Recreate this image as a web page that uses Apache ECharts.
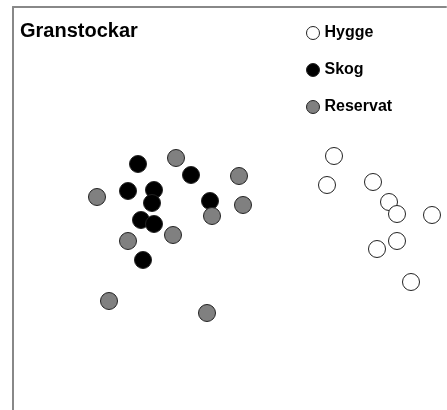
<!DOCTYPE html>
<html>
<head>
<meta charset="utf-8">
<script src="https://cdn.jsdelivr.net/npm/echarts@6/dist/echarts.min.js"></script>
<style>
  html, body { margin: 0; padding: 0; background: #fff; }
  #container { width: 447px; height: 410px; }
</style>
</head>
<body>
<div id="container"></div>
<script>
// ordination scores
var hygge = [
  [321, 254], [314, 225], [360, 228], [376, 208], [384, 196],
  [419, 195], [384, 169], [364, 161], [398, 128]
];
var skog = [
  [125, 246], [178, 235], [115, 219], [141, 220], [139, 207],
  [197, 209], [128, 190], [141, 186], [130, 150]
];
var reservat = [
  [163, 252], [226, 234], [84, 213], [230, 205], [199, 194],
  [160, 175], [115, 169], [96, 109], [194, 97]
];
var seriesNames = ['Hygge', 'Skog', 'Reservat'];

var font = 'Liberation Sans, Arial, sans-serif';
var dom = document.getElementById('container');
var myChart = echarts.init(dom, null, { renderer: 'canvas' });

function pts(name, data, fill) {
  return {
    name: name,
    type: 'scatter',
    data: data,
    symbol: 'circle',
    symbolSize: 17,
    itemStyle: { color: fill, borderColor: '#222', borderWidth: 1, opacity: 1 },
    emphasis: { disabled: true }
  };
}

var option = {
  animation: false,
  title: {
    text: 'Granstockar',
    left: 15,
    top: 16,
    textStyle: { fontFamily: font, fontSize: 20, fontWeight: 'bold', color: '#000' }
  },
  legend: {
    data: seriesNames,
    orient: 'vertical',
    left: 301,
    top: 20,
    itemWidth: 13,
    itemHeight: 13,
    itemGap: 21,
    icon: 'circle',
    itemStyle: { borderWidth: 1, borderColor: '#222' },
    textStyle: { fontFamily: font, fontSize: 16, fontWeight: 'bold', color: '#000' }
  },
  grid: { left: 13, right: 1, top: 7, bottom: 0 },
  xAxis: {
    type: 'value',
    position: 'top',
    min: 0,
    max: 433,
    axisLine: { show: true, onZero: false, lineStyle: { color: '#888', width: 2 } },
    axisTick: { show: false },
    axisLabel: { show: false },
    splitLine: { show: false }
  },
  yAxis: {
    type: 'value',
    min: 0,
    max: 403,
    axisLine: { show: true, onZero: false, lineStyle: { color: '#888', width: 2 } },
    axisTick: { show: false },
    axisLabel: { show: false },
    splitLine: { show: false }
  },
  series: [
    pts('Hygge', hygge, '#fff'),
    pts('Skog', skog, '#000'),
    pts('Reservat', reservat, '#808080')
  ]
};

myChart.setOption(option);
window.addEventListener('resize', function () { myChart.resize(); });
</script>
</body>
</html>
